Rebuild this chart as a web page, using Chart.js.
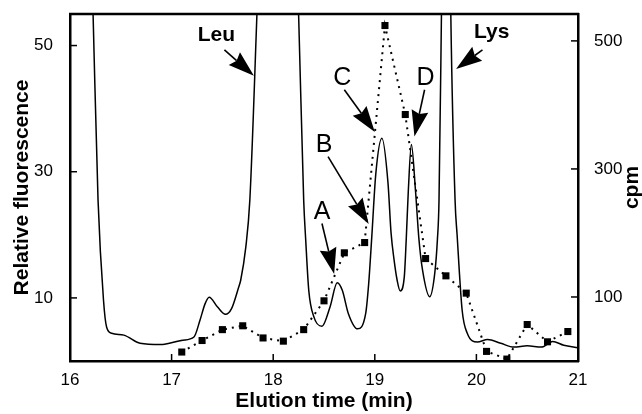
<!DOCTYPE html>
<html>
<head>
<meta charset="utf-8">
<script src="https://cdn.jsdelivr.net/npm/chart.js"></script>
<style>
  html, body { margin: 0; padding: 0; background: #fff; }
  #wrap { width: 642px; height: 414px; }
</style>
</head>
<body>
<div id="wrap"><canvas id="chromChart" width="642" height="414"></canvas></div>
<script>
// fluorescence trace, left axis (elution time in min)
const fluoTime = [16.10, 16.227, 16.276, 16.33, 16.36, 16.41, 16.53, 16.69, 16.89, 17.11,
  17.22, 17.28, 17.33, 17.37, 17.45, 17.53, 17.59, 17.66, 17.68, 17.73,
  17.77, 17.84, 18.05, 18.25, 18.30, 18.32, 18.35, 18.40, 18.48, 18.56,
  18.63, 18.68, 18.74, 18.83, 18.91, 18.94, 18.97, 19.01, 19.07, 19.13,
  19.16, 19.19, 19.22, 19.25, 19.29, 19.31, 19.33, 19.36, 19.40, 19.435,
  19.47, 19.54, 19.59, 19.616, 19.632, 19.656, 19.702, 19.748, 19.79, 19.81,
  19.86, 19.91, 20.01, 20.11, 20.24, 20.37, 20.50, 20.64, 20.75, 20.86, 21.00];
const fluoValue = [130, 55, 25.5, 9.6, 5.4, 4.4, 4.1, 2.8, 2.6, 3.3,
  3.8, 6.5, 9.1, 10.1, 8.6, 7.4, 8.3, 11.7, 12.8, 18,
  25.5, 55, 150, 55, 25.5, 19.2, 11.2, 7.0, 5.5, 8.6,
  12.4, 11.2, 7.5, 5.1, 7.5, 12.3, 19.6, 29.7, 35.3, 28.2,
  20.3, 16, 12.8, 11.1, 13.3, 19.5, 27, 34.3, 27.1, 19.2,
  14.4, 10.2, 13.9, 19.2, 25.5, 55, 120, 55, 25.5, 20,
  8, 4.4, 3.0, 3.4, 2.8, 2.2, 2.4, 2.2, 3.1, 2.5, 2.1];

// radioactivity of collected fractions, right axis
const cpmTime = [17.1, 17.3, 17.5, 17.7, 17.9, 18.1, 18.3, 18.5, 18.7, 18.9,
  19.1, 19.3, 19.5, 19.7, 19.9, 20.1, 20.3, 20.5, 20.7, 20.9];
const cpmValue = [14, 32, 49, 55, 36, 31, 49, 94, 169, 185,
  524, 385, 160, 133, 106, 15, 3, 57, 30, 46];

const xLabels = [16, 17, 18, 19, 20, 21];
const leftLabels = [10, 30, 50];
const rightLabels = [100, 300, 500];

// peak labels and arrows, in (time, fluorescence) units
const notes = [
  { text: 'Leu', t: 17.44, v: 50.7, bold: true, from: [17.52, 49.3], to: [17.81, 45.2] },
  { text: 'Lys', t: 20.15, v: 51.2, bold: true, from: [20.06, 49.3], to: [19.80, 46.3] },
  { text: 'A', t: 18.48, v: 22.5, from: [18.48, 21.8], to: [18.60, 13.8] },
  { text: 'B', t: 18.50, v: 33.1, from: [18.54, 32.4], to: [18.94, 21.7] },
  { text: 'C', t: 18.68, v: 43.8, from: [18.70, 43.0], to: [19.00, 36.3] },
  { text: 'D', t: 19.50, v: 43.8, from: [19.49, 43.0], to: [19.39, 35.6] }
];

const FONT = 'Liberation Sans, Arial, Helvetica, sans-serif';

function onlyAt(list) {
  return function (v) {
    return list.some(l => Math.abs(l - v) < 1e-6) ? String(v) : null;
  };
}

const framePlugin = {
  id: 'framePlugin',
  afterDraw(chart) {
    const { ctx, chartArea: a, scales } = chart;
    const x = scales.x, y = scales.y, y2 = scales.y2;
    ctx.save();
    ctx.strokeStyle = '#000';
    ctx.fillStyle = '#000';

    // top edge of the box
    ctx.lineWidth = 2.5;
    ctx.beginPath();
    ctx.moveTo(a.left - 1, a.top);
    ctx.lineTo(a.right + 1, a.top);
    ctx.stroke();

    // inward tick marks
    ctx.lineWidth = 1.5;
    const len = 7;
    x.ticks.forEach(tk => {
      const px = x.getPixelForValue(tk.value);
      ctx.beginPath(); ctx.moveTo(px, a.bottom); ctx.lineTo(px, a.bottom - len); ctx.stroke();
    });
    y.ticks.forEach(tk => {
      const py = y.getPixelForValue(tk.value);
      ctx.beginPath(); ctx.moveTo(a.left, py); ctx.lineTo(a.left + len, py); ctx.stroke();
    });
    y2.ticks.forEach(tk => {
      const py = y2.getPixelForValue(tk.value);
      ctx.beginPath(); ctx.moveTo(a.right, py); ctx.lineTo(a.right - len, py); ctx.stroke();
    });

    // right axis title, reading upward
    ctx.save();
    ctx.translate(632, (a.top + a.bottom) / 2);
    ctx.rotate(-Math.PI / 2);
    ctx.font = 'bold 21px ' + FONT;
    ctx.textAlign = 'center';
    ctx.textBaseline = 'middle';
    ctx.fillText('cpm', 0, 0);
    ctx.restore();

    // labels with arrows
    notes.forEach(n => {
      ctx.font = (n.bold ? 'bold 21px ' : '25px ') + FONT;
      ctx.textAlign = 'center';
      ctx.textBaseline = 'alphabetic';
      ctx.fillText(n.text, x.getPixelForValue(n.t), y.getPixelForValue(n.v));

      const x0 = x.getPixelForValue(n.from[0]), y0 = y.getPixelForValue(n.from[1]);
      const x1 = x.getPixelForValue(n.to[0]), y1 = y.getPixelForValue(n.to[1]);
      const dx = x1 - x0, dy = y1 - y0;
      const d = Math.hypot(dx, dy);
      const ux = dx / d, uy = dy / d;
      const head = 26, half = 8.5;
      const bx = x1 - ux * head, by = y1 - uy * head;
      ctx.lineWidth = 1.6;
      ctx.beginPath(); ctx.moveTo(x0, y0); ctx.lineTo(bx + ux * 3, by + uy * 3); ctx.stroke();
      ctx.beginPath();
      ctx.moveTo(x1, y1);
      ctx.lineTo(bx - uy * half, by + ux * half);
      ctx.lineTo(bx + ux * 3, by + uy * 3);
      ctx.lineTo(bx + uy * half, by - ux * half);
      ctx.closePath();
      ctx.fill();
    });
    ctx.restore();
  }
};

function fitVertical(width) {
  return s => { s.width = width; s.paddingTop = 0; s.paddingBottom = 0; };
}

const ctx = document.getElementById('chromChart').getContext('2d');
const chart = new Chart(ctx, {
  type: 'line',
  data: {
    datasets: [
      {
        label: 'Fluorescence',
        data: fluoTime.map((t, i) => ({ x: t, y: fluoValue[i] })),
        yAxisID: 'y',
        borderColor: '#000',
        borderWidth: 1.5,
        pointRadius: 0,
        cubicInterpolationMode: 'monotone',
        fill: false
      },
      {
        label: 'cpm',
        data: cpmTime.map((t, i) => ({ x: t, y: cpmValue[i] })),
        yAxisID: 'y2',
        borderColor: '#000',
        borderWidth: 2,
        borderDash: [2, 5],
        pointStyle: 'rect',
        pointRadius: 5,
        pointBackgroundColor: '#000',
        pointBorderColor: '#000',
        pointBorderWidth: 0,
        tension: 0,
        fill: false
      }
    ]
  },
  options: {
    responsive: false,
    animation: false,
    layout: { padding: { top: 14, left: 0, right: 0, bottom: 0 } },
    plugins: { legend: { display: false }, tooltip: { enabled: false } },
    scales: {
      x: {
        type: 'linear',
        min: 16, max: 21,
        grid: { display: false },
        border: { display: true, color: '#000', width: 2.5 },
        ticks: {
          stepSize: 0.5, color: '#000', padding: 1, maxRotation: 0, autoSkip: false,
          font: { family: FONT, size: 17 },
          callback: onlyAt(xLabels)
        },
        title: {
          display: true, text: 'Elution time (min)', color: '#000',
          font: { family: FONT, size: 21, weight: 'bold' },
          padding: { top: 0, bottom: 0 }
        },
        afterFit: s => { s.height = 53; s.paddingLeft = 0; s.paddingRight = 0; }
      },
      y: {
        position: 'left',
        min: 0, max: 55,
        grid: { display: false },
        border: { display: true, color: '#000', width: 2.5 },
        ticks: {
          stepSize: 5, color: '#000', padding: 9, autoSkip: false,
          font: { family: FONT, size: 17 },
          callback: onlyAt(leftLabels)
        },
        title: {
          display: true, text: 'Relative fluorescence', color: '#000',
          font: { family: FONT, size: 21, weight: 'bold' },
          padding: { top: 10, bottom: 0 }
        },
        afterFit: fitVertical(70)
      },
      y2: {
        position: 'right',
        min: 0, max: 542,
        grid: { display: false },
        border: { display: true, color: '#000', width: 2.5 },
        ticks: {
          stepSize: 50, includeBounds: false, color: '#000', padding: 8, autoSkip: false,
          font: { family: FONT, size: 17 },
          callback: onlyAt(rightLabels)
        },
        afterFit: fitVertical(64)
      }
    }
  },
  plugins: [framePlugin]
});
</script>
</body>
</html>
